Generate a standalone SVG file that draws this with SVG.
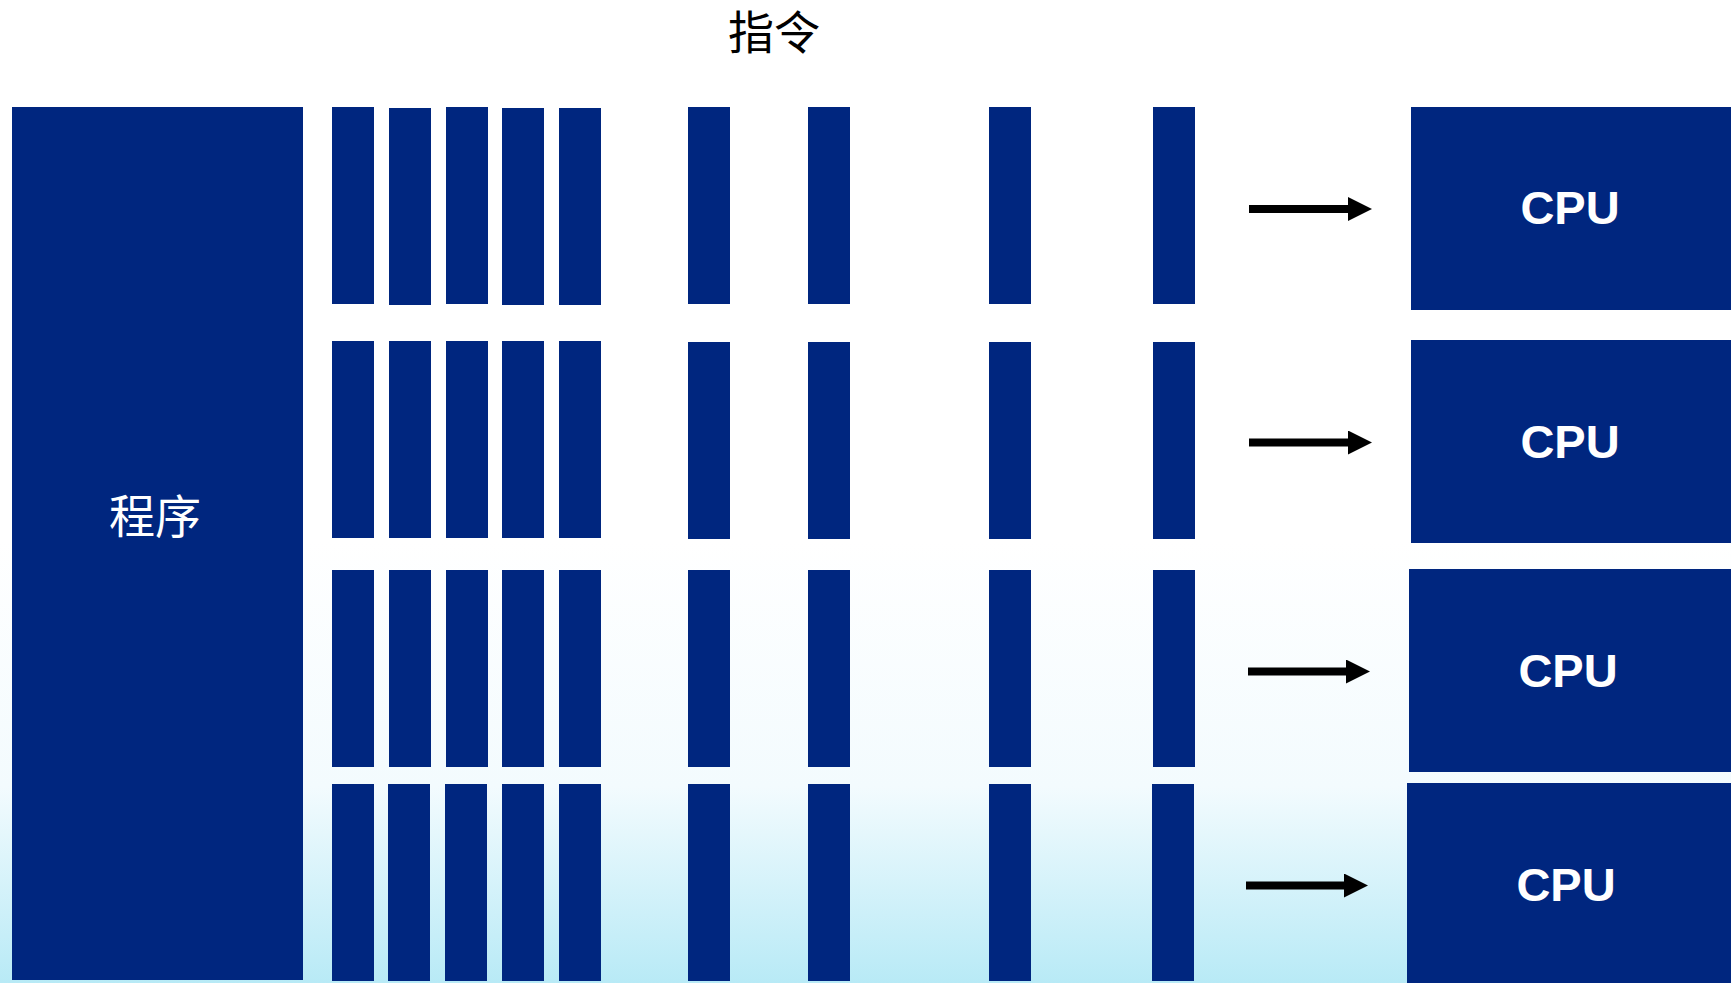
<svg xmlns="http://www.w3.org/2000/svg" width="1731" height="983" viewBox="0 0 1731 983">
<defs>
<linearGradient id="bg" x1="0" y1="0" x2="0" y2="1">
<stop offset="0" stop-color="#ffffff"/>
<stop offset="0.55" stop-color="#ffffff"/>
<stop offset="0.8" stop-color="#f3fbfe"/>
<stop offset="1" stop-color="#b8eaf6"/>
</linearGradient>
<marker id="ah" markerUnits="userSpaceOnUse" markerWidth="24" markerHeight="24" refX="0" refY="12" orient="auto">
<path d="M0,0 L24,12 L0,24 Z" fill="#000"/>
</marker>
<style>
.blk{fill:#00267f}
.cpu{font-family:"Liberation Sans",Arial,sans-serif;font-weight:bold;font-size:47px;fill:#fff;text-anchor:middle}
.cjk{font-family:"Liberation Serif","Noto Sans CJK SC",serif;font-size:46px;text-anchor:middle}
.arr{stroke:#000;stroke-width:8;fill:none;marker-end:url(#ah)}
</style>
</defs>
<rect x="0" y="0" width="1731" height="983" fill="url(#bg)"/>
<g id="title"><text class="cjk" x="774" y="49" fill="#000">指令</text></g>
<g id="program"><rect class="blk" x="12" y="107" width="291" height="873"/><text class="cjk" x="155" y="533" fill="#fff">程序</text></g>
<g id="row1">
<rect class="blk" x="332" y="107" width="42" height="197"/>
<rect class="blk" x="389" y="108" width="42" height="197"/>
<rect class="blk" x="446" y="107" width="42" height="197"/>
<rect class="blk" x="502" y="108" width="42" height="197"/>
<rect class="blk" x="559" y="108" width="42" height="197"/>
<rect class="blk" x="688" y="107" width="42" height="197"/>
<rect class="blk" x="808" y="107" width="42" height="197"/>
<rect class="blk" x="989" y="107" width="42" height="197"/>
<rect class="blk" x="1153" y="107" width="42" height="197"/>
</g>
<g id="row2">
<rect class="blk" x="332" y="341" width="42" height="197"/>
<rect class="blk" x="389" y="341" width="42" height="197"/>
<rect class="blk" x="446" y="341" width="42" height="197"/>
<rect class="blk" x="502" y="341" width="42" height="197"/>
<rect class="blk" x="559" y="341" width="42" height="197"/>
<rect class="blk" x="688" y="342" width="42" height="197"/>
<rect class="blk" x="808" y="342" width="42" height="197"/>
<rect class="blk" x="989" y="342" width="42" height="197"/>
<rect class="blk" x="1153" y="342" width="42" height="197"/>
</g>
<g id="row3">
<rect class="blk" x="332" y="570" width="42" height="197"/>
<rect class="blk" x="389" y="570" width="42" height="197"/>
<rect class="blk" x="446" y="570" width="42" height="197"/>
<rect class="blk" x="502" y="570" width="42" height="197"/>
<rect class="blk" x="559" y="570" width="42" height="197"/>
<rect class="blk" x="688" y="570" width="42" height="197"/>
<rect class="blk" x="808" y="570" width="42" height="197"/>
<rect class="blk" x="989" y="570" width="42" height="197"/>
<rect class="blk" x="1153" y="570" width="42" height="197"/>
</g>
<g id="row4">
<rect class="blk" x="332" y="784" width="42" height="197"/>
<rect class="blk" x="388" y="784" width="42" height="197"/>
<rect class="blk" x="445" y="784" width="42" height="197"/>
<rect class="blk" x="502" y="784" width="42" height="197"/>
<rect class="blk" x="559" y="784" width="42" height="197"/>
<rect class="blk" x="688" y="784" width="42" height="197"/>
<rect class="blk" x="808" y="784" width="42" height="197"/>
<rect class="blk" x="989" y="784" width="42" height="197"/>
<rect class="blk" x="1152" y="784" width="42" height="197"/>
</g>
<g id="cpu1"><rect class="blk" x="1411" y="107" width="320" height="203"/><text class="cpu" x="1570" y="224">CPU</text></g>
<g id="cpu2"><rect class="blk" x="1411" y="340" width="320" height="203"/><text class="cpu" x="1570" y="458">CPU</text></g>
<g id="cpu3"><rect class="blk" x="1409" y="569" width="322" height="203"/><text class="cpu" x="1568" y="687">CPU</text></g>
<g id="cpu4"><rect class="blk" x="1407" y="783" width="324" height="203"/><text class="cpu" x="1566" y="901">CPU</text></g>
<g id="connectors">
<line class="arr" x1="1249" y1="209" x2="1348" y2="209"/>
<line class="arr" x1="1249" y1="442.5" x2="1348" y2="442.5"/>
<line class="arr" x1="1248" y1="671.5" x2="1346" y2="671.5"/>
<line class="arr" x1="1246" y1="885.5" x2="1344" y2="885.5"/>
</g>
</svg>
